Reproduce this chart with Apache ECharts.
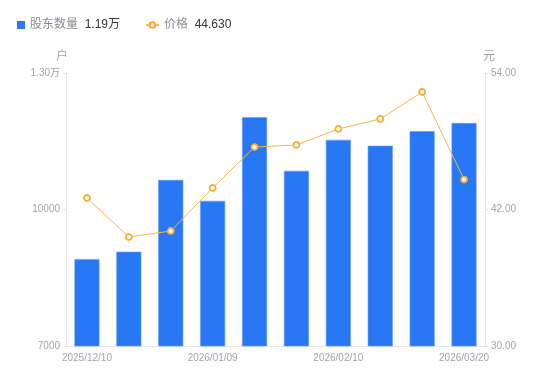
<!DOCTYPE html>
<html><head><meta charset="utf-8">
<script src="https://cdn.jsdelivr.net/npm/echarts@6/dist/echarts.min.js"></script>
<style>html,body{margin:0;padding:0;background:#fff}#c{width:550px;height:381px}</style>
</head><body><div id="c"></div>
<script>
const categories = ['2025/12/10','2025/12/20','2025/12/31','2026/01/09','2026/01/20','2026/01/30','2026/02/10','2026/02/28','2026/03/10','2026/03/20'];
const holders = [8910, 9070, 10650, 10190, 12030, 10850, 11530, 11400, 11720, 11900];
const prices = [43.01, 39.58, 40.11, 43.89, 47.49, 47.67, 49.08, 49.96, 52.33, 44.63];
const leftTicks = [7000, 10000, 13000];
const rightTicks = [30, 42, 54];
const legendValues = {'股东数量': '1.19万', '价格': '44.630'};

const chart = echarts.init(document.getElementById('c'));
const labelColor = '#a0a3ae';
const legendText = {rich: {a: {color: '#8a8d99', fontSize: 12}, b: {color: '#333', fontSize: 12}}};
const fmt = n => '{a|' + n + '}  {b|' + legendValues[n] + '}';
chart.setOption({
  animation: false,
  textStyle: {fontFamily: '"Liberation Sans", Arial, "Noto Sans CJK SC", sans-serif'},
  legend: [{
    left: 12, top: 14, itemWidth: 8, itemHeight: 8, itemGap: 5,
    data: [{name: '股东数量', icon: 'rect', itemStyle: {borderWidth: 0}}],
    formatter: fmt, textStyle: legendText
  }, {
    left: 140, top: 14, itemWidth: 13, itemHeight: 7, itemGap: 5,
    data: [{name: '价格'}],
    formatter: fmt, textStyle: legendText
  }],
  grid: {left: 66, right: 65, top: 73, bottom: 35},
  xAxis: {
    type: 'category', data: categories,
    axisLine: {lineStyle: {color: '#e3e4e8'}},
    axisTick: {show: false},
    axisLabel: {color: labelColor, fontSize: 10, interval: 2, margin: 7}
  },
  yAxis: [{
    type: 'value', name: '户', min: 7000, max: 13000, interval: 3000,
    nameTextStyle: {color: labelColor, fontSize: 12, padding: [0, 8, 0, 0]},
    nameGap: 10,
    axisLine: {show: true, lineStyle: {color: '#e3e4e8'}},
    axisTick: {show: true, length: 3, lineStyle: {color: '#e3e4e8'}},
    splitLine: {show: false},
    axisLabel: {color: labelColor, fontSize: 10, margin: 6,
      formatter: v => v === leftTicks[leftTicks.length - 1] ? (v / 10000).toFixed(2) + '万' : String(v)}
  }, {
    type: 'value', name: '元', min: 30, max: 54, interval: 12,
    nameTextStyle: {color: labelColor, fontSize: 12, padding: [0, 0, 0, 8]},
    nameGap: 10,
    axisLine: {show: true, lineStyle: {color: '#e3e4e8'}},
    axisTick: {show: true, length: 3, lineStyle: {color: '#e3e4e8'}},
    splitLine: {show: false},
    axisLabel: {color: labelColor, fontSize: 10, margin: 6, formatter: v => v.toFixed(2)}
  }],
  series: [{
    name: '股东数量', type: 'bar', data: holders, barWidth: 25,
    itemStyle: {color: '#2878f5', borderColor: '#5c9af7', borderWidth: 0.6}
  }, {
    name: '价格', type: 'line', yAxisIndex: 1, data: prices,
    symbol: 'circle', symbolSize: 6, showAllSymbol: true,
    lineStyle: {color: '#f8b548', width: 1},
    itemStyle: {color: '#fff', borderColor: '#f8ad30', borderWidth: 1.8}
  }]
});
</script></body></html>
